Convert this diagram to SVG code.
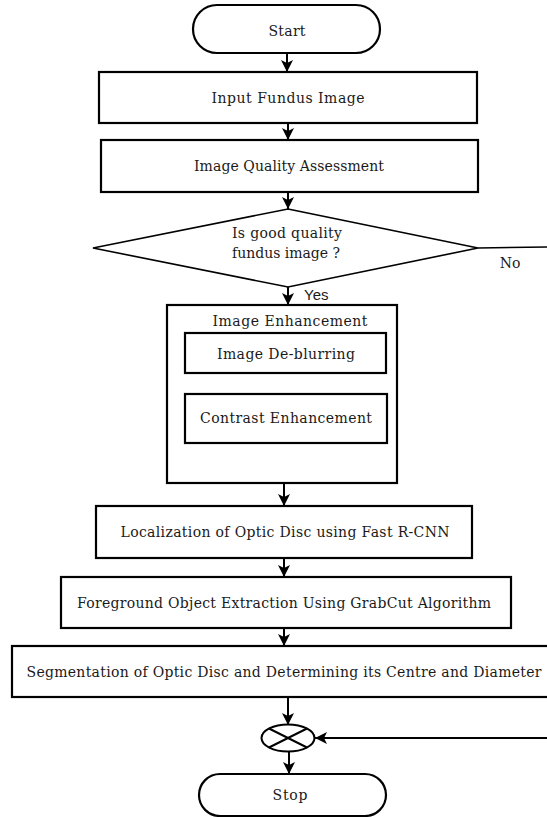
<svg xmlns="http://www.w3.org/2000/svg" width="547" height="817" viewBox="0 0 547 817">
<style>
.box{fill:#fff;stroke:#000;stroke-width:2.2}
.thin{fill:#fff;stroke:#000;stroke-width:1.6}
.t{font-family:"DejaVu Serif","Liberation Serif",serif;font-size:14px;fill:#1a1a1a;text-anchor:middle}
.s{font-family:"Liberation Sans",Arial,sans-serif;font-size:15px;fill:#1a1a1a}
.c{stroke:#000;stroke-width:2;fill:none;marker-end:url(#ah)}
</style>
<defs>
<marker id="ah" viewBox="0 0 10 10" refX="10" refY="5" markerWidth="6" markerHeight="6.5" orient="auto" markerUnits="strokeWidth">
<path d="M0,0 L10,5 L0,10 L2.5,5 z" fill="#000"/>
</marker>
</defs>
<rect width="547" height="817" fill="#fff"/>
<g id="connectors">
<line class="c" x1="287" y1="53" x2="287" y2="72"/>
<line class="c" x1="288" y1="123" x2="288" y2="140"/>
<line class="c" x1="288" y1="192" x2="288" y2="209"/>
<line class="c" x1="288" y1="287" x2="288" y2="305"/>
<line class="c" x1="285" y1="373" x2="285" y2="394"/>
<line class="c" x1="284" y1="483" x2="284" y2="506"/>
<line class="c" x1="284" y1="558" x2="284" y2="577"/>
<line class="c" x1="284" y1="628" x2="284" y2="646"/>
<line class="c" x1="288" y1="697" x2="288" y2="725"/>
<line class="c" x1="289" y1="752" x2="289" y2="774"/>
<line style="stroke:#000;stroke-width:1.6" x1="478" y1="248" x2="547" y2="247"/>
<line class="c" x1="547" y1="738" x2="315" y2="738"/>
<text class="s" x="304" y="300">Yes</text>
<text class="t" x="510" y="268">No</text>
</g>
<g id="start">
<rect class="box" x="193" y="5" width="187" height="48" rx="24" ry="24"/>
<text class="t" x="287" y="36" textLength="37">Start</text>
</g>
<g id="input">
<rect class="box" x="99" y="72" width="378" height="51"/>
<text class="t" x="288" y="103" textLength="153">Input Fundus Image</text>
</g>
<g id="quality">
<rect class="box" x="101" y="140" width="377" height="52"/>
<text class="t" x="289" y="171" textLength="190">Image Quality Assessment</text>
</g>
<g id="decision">
<polygon class="thin" points="288,209 478,248 288,287 93,248"/>
<text class="t" x="287" y="238" textLength="110">Is good quality</text>
<text class="t" x="286" y="258" textLength="108">fundus image ?</text>
</g>
<g id="enhancement">
<rect class="box" x="167" y="305" width="230" height="178"/>
<text class="t" x="290" y="326" textLength="155">Image Enhancement</text>
</g>
<g id="deblur">
<rect class="box" x="185" y="333" width="201" height="40"/>
<text class="t" x="286" y="359" textLength="138">Image De-blurring</text>
</g>
<g id="contrast">
<rect class="box" x="185" y="394" width="202" height="49"/>
<text class="t" x="286" y="423" textLength="172">Contrast Enhancement</text>
</g>
<g id="localization">
<rect class="box" x="96" y="506" width="376" height="52"/>
<text class="t" x="285" y="537" textLength="329">Localization of Optic Disc using Fast R-CNN</text>
</g>
<g id="foreground">
<rect class="box" x="61" y="577" width="450" height="51"/>
<text class="t" x="284" y="608" textLength="414">Foreground Object Extraction Using GrabCut Algorithm</text>
</g>
<g id="segmentation">
<rect class="box" x="12" y="646" width="537" height="51"/>
<text class="t" x="284" y="677" textLength="515">Segmentation of Optic Disc and Determining its Centre and Diameter</text>
</g>
<g id="merge">
<ellipse class="thin" cx="288" cy="738" rx="26.5" ry="13.5" style="stroke-width:2"/>
<line x1="269" y1="728.5" x2="307" y2="747.5" stroke="#000" stroke-width="2"/>
<line x1="269" y1="747.5" x2="307" y2="728.5" stroke="#000" stroke-width="2"/>
</g>
<g id="stop">
<rect class="box" x="199" y="774" width="187" height="42" rx="21" ry="21"/>
<text class="t" x="290" y="800" textLength="35">Stop</text>
</g>
</svg>
